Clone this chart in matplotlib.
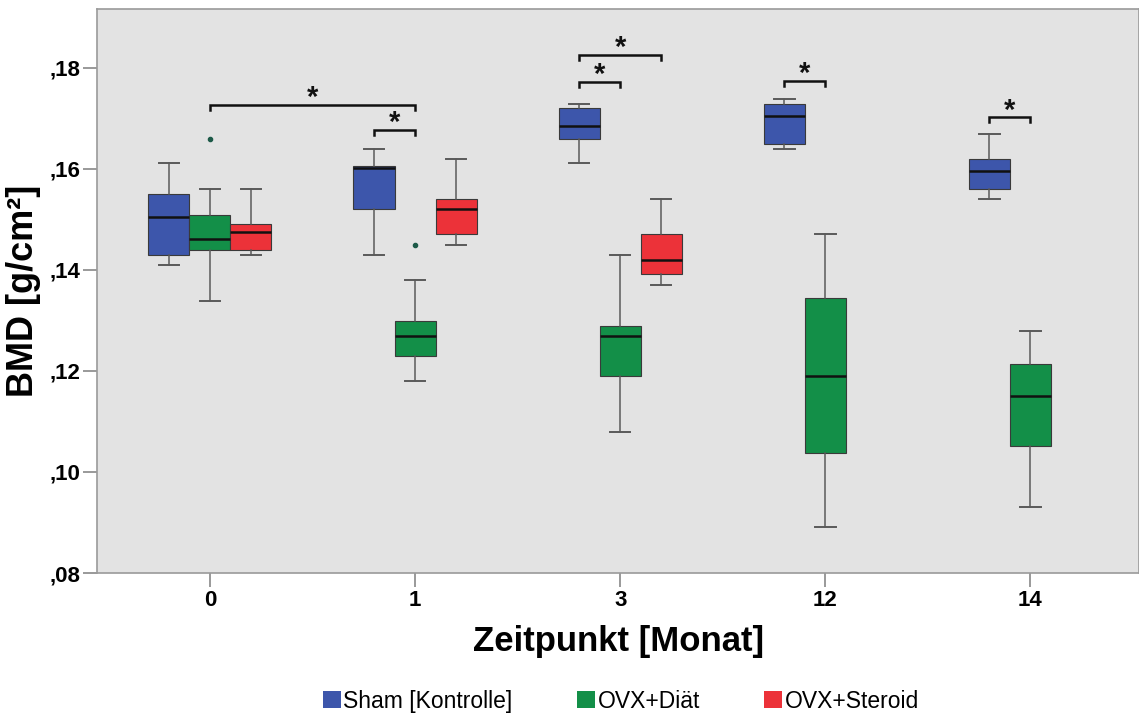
import matplotlib
matplotlib.use('Agg')
import matplotlib.pyplot as plt
from matplotlib.patches import Patch
from matplotlib.ticker import FuncFormatter

plt.rcParams['font.family'] = ['Liberation Sans', 'DejaVu Sans']

groups = ['0', '1', '3', '12', '14']

# Sham [Kontrolle]: whisker low, Q1, median, Q3, whisker high
sham_lo = [0.1409, 0.1430, 0.1612, 0.1639, 0.1540]
sham_q1 = [0.1430, 0.1520, 0.1660, 0.1649, 0.1560]
sham_med = [0.1505, 0.1602, 0.1685, 0.1705, 0.1596]
sham_q3 = [0.1550, 0.1606, 0.1720, 0.1728, 0.1619]
sham_hi = [0.1612, 0.1639, 0.1729, 0.1738, 0.1669]
sham_fliers = [[], [], [], [], []]

# OVX+Diät
diaet_lo = [0.1339, 0.1180, 0.1080, 0.0891, 0.0931]
diaet_q1 = [0.1440, 0.1230, 0.1190, 0.1037, 0.1052]
diaet_med = [0.1461, 0.1270, 0.1270, 0.1190, 0.1151]
diaet_q3 = [0.1509, 0.1299, 0.1289, 0.1344, 0.1214]
diaet_hi = [0.1560, 0.1381, 0.1430, 0.1471, 0.1280]
diaet_fliers = [[0.1660], [0.1450], [], [], []]

# OVX+Steroid (only months 0, 1, 3)
ster_lo = [0.1430, 0.1450, 0.1370]
ster_q1 = [0.1440, 0.1471, 0.1391]
ster_med = [0.1476, 0.1520, 0.1419]
ster_q3 = [0.1491, 0.1540, 0.1471]
ster_hi = [0.1560, 0.1620, 0.1540]
ster_fliers = [[], [], []]

# significance brackets: (group start, series start, group end, series end, height)
brackets = [
    (0, 1, 1, 1, 0.1726),
    (1, 0, 1, 1, 0.1677),
    (2, 0, 2, 1, 0.1773),
    (2, 0, 2, 2, 0.1826),
    (3, 0, 3, 1, 0.1775),
    (4, 0, 4, 1, 0.1702),
]

series_names = ['Sham [Kontrolle]', 'OVX+Diät', 'OVX+Steroid']
colors = ['#3d56ab', '#138f48', '#ec3239']
offsets = [-0.2, 0.0, 0.2]
box_w = 0.2


def make_stats(lo, q1, med, q3, hi, fl):
    stats = []
    for i in range(len(lo)):
        stats.append({'whislo': lo[i], 'q1': q1[i], 'med': med[i],
                      'q3': q3[i], 'whishi': hi[i], 'fliers': fl[i]})
    return stats


all_stats = [
    make_stats(sham_lo, sham_q1, sham_med, sham_q3, sham_hi, sham_fliers),
    make_stats(diaet_lo, diaet_q1, diaet_med, diaet_q3, diaet_hi, diaet_fliers),
    make_stats(ster_lo, ster_q1, ster_med, ster_q3, ster_hi, ster_fliers),
]

fig = plt.figure(figsize=(11.39, 7.16), dpi=100)
ax = fig.add_axes([0.0852, 0.1997, 0.9150, 0.7880])
ax.set_facecolor('#e3e3e3')

for k, stats in enumerate(all_stats):
    pos = [i + offsets[k] for i in range(len(stats))]
    ax.bxp(stats, positions=pos, widths=box_w, capwidths=box_w / 2,
           patch_artist=True, showfliers=True,
           boxprops=dict(facecolor=colors[k], edgecolor='#3a3a3a', linewidth=0.8),
           medianprops=dict(color='#111111', linewidth=1.8),
           whiskerprops=dict(color='#5a5a5a', linewidth=1.1),
           capprops=dict(color='#5a5a5a', linewidth=1.4),
           flierprops=dict(marker='o', markersize=3, markerfacecolor='#1d5a48',
                           markeredgecolor='#1d5a48'))

drop = 0.0010
for g1, s1, g2, s2, y in brackets:
    x1 = g1 + offsets[s1]
    x2 = g2 + offsets[s2]
    ax.plot([x1, x1, x2, x2], [y - drop, y, y, y - drop], color='#111111', linewidth=1.8,
            solid_joinstyle='miter')
    ax.annotate('*', xy=((x1 + x2) / 2, y), xytext=(0, 5), textcoords='offset points',
                ha='center', va='center', fontsize=21, fontweight='bold', color='#111111')

ax.set_xlim(-0.55, 4.53)
ax.set_ylim(0.08, 0.1917)
ax.set_xticks(range(len(groups)))
ax.set_xticklabels(groups)
ax.set_yticks([0.08, 0.10, 0.12, 0.14, 0.16, 0.18])
ax.yaxis.set_major_formatter(FuncFormatter(lambda v, p: ('%.2f' % v)[1:].replace('.', ',')))

for lab in ax.get_xticklabels() + ax.get_yticklabels():
    lab.set_fontweight('bold')
ax.tick_params(axis='both', labelsize=16, color='#888888', width=1.2, length=10, pad=2)

for side in ['left', 'bottom', 'top', 'right']:
    ax.spines[side].set_color('#9a9a9a')
    ax.spines[side].set_linewidth(1.2)

ax.set_ylabel('BMD [g/cm²]', fontsize=26, fontweight='bold', labelpad=6)
ax.set_xlabel('Zeitpunkt [Monat]', fontsize=25, fontweight='bold', labelpad=10)

handles = [Patch(facecolor=colors[k], edgecolor='none') for k in range(3)]
fig.legend(handles, series_names, loc='lower center', bbox_to_anchor=(0.545, -0.024),
           ncol=3, frameon=False, fontsize=16.5, handlelength=0.8, handleheight=0.8,
           handletextpad=0.1, columnspacing=2.8)

fig.savefig('out.png', dpi=100, facecolor='white')
